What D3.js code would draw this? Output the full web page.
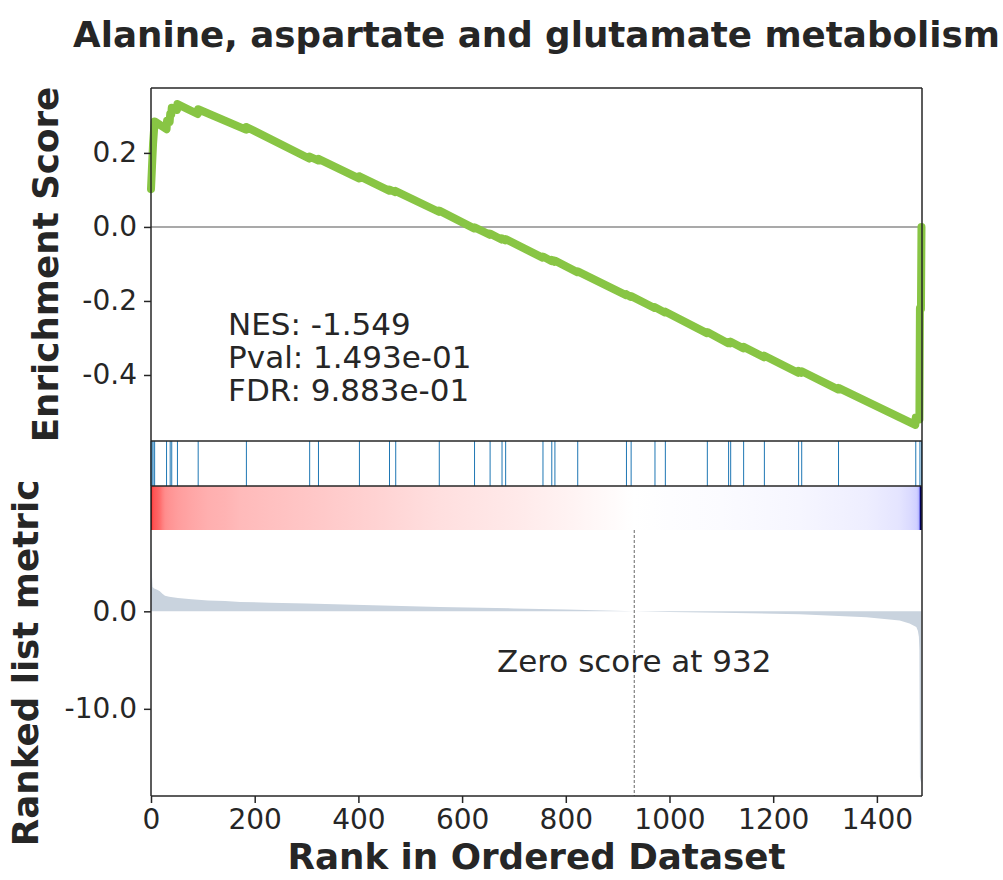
<!DOCTYPE html>
<html>
<head>
<meta charset="utf-8">
<script src="https://cdn.jsdelivr.net/npm/d3@7"></script>
<style>
  html, body { margin: 0; padding: 0; background: #fff; }
  svg { display: block; font-family: "DejaVu Sans", sans-serif; }
</style>
</head>
<body>
<svg id="chart" width="1003" height="880"></svg>
<script>
// ---------------- data ----------------
const title = "Alanine, aspartate and glutamate metabolism";
const nGenes = 1487;
const zeroScoreRank = 932;
const statLines = ["NES: -1.549", "Pval: 1.493e-01", "FDR: 9.883e-01"];

// running enrichment score (rank, ES)
const esRanks = [0, 2, 4, 7, 30, 31, 36, 37, 39, 40, 50, 51, 90, 91, 183, 184, 305, 306, 322, 323,
  401, 402, 459, 460, 471, 472, 555, 556, 623, 624, 653, 654, 676, 677, 683, 684, 755, 756,
  772, 773, 778, 779, 822, 823, 916, 917, 925, 926, 971, 972, 991, 992, 1072, 1073, 1113, 1114,
  1117, 1118, 1142, 1143, 1182, 1183, 1248, 1249, 1254, 1255, 1325, 1326, 1474, 1475, 1482, 1483, 1485, 1486];
const esValues = [0.102, 0.165, 0.225, 0.285, 0.264, 0.287, 0.284, 0.305, 0.303, 0.322, 0.316, 0.332,
  0.305, 0.318, 0.263, 0.270, 0.185, 0.190, 0.180, 0.184,
  0.131, 0.137, 0.098, 0.101, 0.094, 0.097, 0.041, 0.044, -0.004, -0.001, -0.021, -0.018,
  -0.034, -0.031, -0.036, -0.033, -0.083, -0.080, -0.092, -0.089, -0.094, -0.091, -0.122, -0.120,
  -0.184, -0.182, -0.189, -0.187, -0.219, -0.217, -0.231, -0.229, -0.287, -0.284, -0.314, -0.311,
  -0.314, -0.310, -0.328, -0.324, -0.352, -0.348, -0.394, -0.389, -0.394, -0.390, -0.439, -0.435,
  -0.535, -0.515, -0.520, -0.220, -0.222, 0.0];

// positions of gene-set members in the ranked list
const hitRanks = [0, 2, 4, 7, 30, 37, 40, 51, 91, 184, 306, 323, 402, 460, 472, 556, 624, 654, 677, 684,
  756, 773, 779, 823, 917, 926, 972, 992, 1073, 1114, 1118, 1143, 1183, 1249, 1255, 1326, 1475, 1483, 1486];

// ranked list metric (rank, value)
const metricRanks = [0, 1, 2, 3, 6, 12, 17, 22, 27, 35, 52, 78, 110, 143, 172, 230, 300, 428, 557,
  700, 800, 932, 1000, 1100, 1251, 1380, 1444, 1463, 1476, 1479, 1481, 1482, 1483, 1484, 1485, 1486];
const metricValues = [7.1, 5.4, 3.5, 2.5, 2.35, 2.2, 2.05, 1.8, 1.6, 1.5, 1.37, 1.24, 1.12, 1.06, 0.96,
  0.88, 0.79, 0.62, 0.45, 0.30, 0.18, 0.0, -0.08, -0.15, -0.30, -0.60, -0.95, -1.25, -1.6, -2.0,
  -2.6, -4.0, -17.0, -17.3, -17.5, -17.7];

const xTicks = [0, 200, 400, 600, 800, 1000, 1200, 1400];
const esTicks = [0.2, 0.0, -0.2, -0.4];
const metricTicks = [0.0, -10.0];

// ---------------- layout ----------------
const L = 151, R = 922;
const esTop = 88, esBot = 441;
const hitTop = 441, hitBot = 486;
const cbTop = 486, cbBot = 530;
const rkTop = 530, rkBot = 796;

const svg = d3.select("#chart");
const axisColor = "#262626";
const tickFont = 28;
const labelFont = 35.7;

const x = d3.scaleLinear().domain([0, nGenes]).range([L, R]);

function padded(vals) {
  const [mn, mx] = d3.extent(vals);
  const p = (mx - mn) * 0.05;
  return [mn - p, mx + p];
}
const yES = d3.scaleLinear().domain(padded(esValues)).range([esBot, esTop]);
const yRk = d3.scaleLinear().domain(padded(metricValues)).range([rkBot, rkTop]);

// ---------- colour bar (seismic, midpoint normalised) ----------
const [vmin, vmax] = d3.extent(metricValues);
const norm = d3.scaleLinear().domain([vmin, 0, vmax]).range([0, 0.5, 1]).clamp(true);
const seismic = d3.scaleLinear()
  .domain([0, 0.25, 0.5, 0.75, 1])
  .range(["rgb(0,0,77)", "rgb(0,0,255)", "rgb(255,255,255)", "rgb(255,0,0)", "rgb(128,0,0)"])
  .interpolate(d3.interpolateRgb);

const defs = svg.append("defs");
const grad = defs.append("linearGradient")
  .attr("id", "cbar").attr("gradientUnits", "userSpaceOnUse")
  .attr("x1", x(0)).attr("x2", x(nGenes)).attr("y1", 0).attr("y2", 0);
metricRanks.forEach((r, i) => {
  grad.append("stop")
    .attr("offset", (x(r) - x(0)) / (x(nGenes) - x(0)))
    .attr("stop-color", seismic(norm(metricValues[i])));
});
svg.append("rect")
  .attr("x", x(0)).attr("y", cbTop)
  .attr("width", x(nGenes) - x(0)).attr("height", cbBot - cbTop)
  .attr("fill", "url(#cbar)");

// ---------- ranked list metric ----------
const metricData = metricRanks.map((r, i) => ({ r, v: metricValues[i] }));
svg.append("path")
  .datum(metricData)
  .attr("fill", "#C9D3DE")
  .attr("d", d3.area().x(d => x(d.r)).y0(yRk(0)).y1(d => yRk(d.v)));

svg.append("line")
  .attr("x1", x(zeroScoreRank)).attr("x2", x(zeroScoreRank))
  .attr("y1", rkTop).attr("y2", rkBot)
  .attr("stroke", "#555").attr("stroke-width", 0.9).attr("stroke-dasharray", "3,2");

svg.append("text")
  .attr("x", x(zeroScoreRank)).attr("y", 672)
  .attr("text-anchor", "middle").attr("font-size", 31).attr("fill", "#262626")
  .text("Zero score at " + zeroScoreRank);

// ---------- hits ----------
svg.append("g").selectAll("line").data(hitRanks).join("line")
  .attr("x1", d => x(d)).attr("x2", d => x(d))
  .attr("y1", hitTop).attr("y2", hitBot)
  .attr("stroke", "#1f77b4").attr("stroke-width", 1);

// ---------- ES ----------
svg.append("line")
  .attr("x1", L).attr("x2", R).attr("y1", yES(0)).attr("y2", yES(0))
  .attr("stroke", "#8c8c8c").attr("stroke-width", 1.5);

const esData = esRanks.map((r, i) => ({ r, v: esValues[i] }));
svg.append("path")
  .datum(esData)
  .attr("fill", "none")
  .attr("stroke", "#88C544")
  .attr("stroke-width", 8)
  .attr("stroke-linejoin", "round")
  .attr("stroke-linecap", "round")
  .attr("d", d3.line().x(d => x(d.r)).y(d => yES(d.v)));

const statText = svg.append("text")
  .attr("font-size", 31).attr("fill", "#262626");
statLines.forEach((s, i) => {
  statText.append("tspan").attr("x", L + 0.1 * (R - L)).attr("y", 335 + i * 33).text(s);
});

// ---------- frames ----------
const frame = svg.append("g").attr("stroke", axisColor).attr("stroke-width", 1.5).attr("fill", "none");
[esTop, esBot, hitBot, rkBot].forEach(yy =>
  frame.append("line").attr("x1", L).attr("x2", R).attr("y1", yy).attr("y2", yy));
frame.append("line").attr("x1", L).attr("x2", L).attr("y1", esTop).attr("y2", rkBot);
frame.append("line").attr("x1", R).attr("x2", R).attr("y1", esTop).attr("y2", rkBot);

// ---------- axes ----------
function styleAxis(g) {
  g.select(".domain").remove();
  g.selectAll(".tick line").attr("stroke", axisColor).attr("stroke-width", 1.5);
  g.selectAll(".tick text").attr("fill", "#262626").attr("font-size", tickFont)
    .attr("font-family", "DejaVu Sans");
}
svg.append("g").attr("transform", `translate(0,${rkBot})`)
  .call(d3.axisBottom(x).tickValues(xTicks).tickFormat(d3.format("d")).tickSize(7).tickPadding(6))
  .call(styleAxis);
svg.append("g").attr("transform", `translate(${L},0)`)
  .call(d3.axisLeft(yES).tickValues(esTicks).tickFormat(d3.format(".1f")).tickSize(7).tickPadding(7))
  .call(styleAxis);
svg.append("g").attr("transform", `translate(${L},0)`)
  .call(d3.axisLeft(yRk).tickValues(metricTicks).tickFormat(d3.format(".1f")).tickSize(7).tickPadding(7))
  .call(styleAxis);
svg.selectAll(".tick text").text(function() { return this.textContent.replace("−", "-"); });

// ---------- titles ----------
svg.append("text")
  .attr("x", (L + R) / 2).attr("y", 47)
  .attr("text-anchor", "middle").attr("font-size", labelFont).attr("font-weight", "bold").attr("fill", "#262626")
  .text(title);
svg.append("text")
  .attr("x", (L + R) / 2).attr("y", 869)
  .attr("text-anchor", "middle").attr("font-size", labelFont).attr("font-weight", "bold").attr("fill", "#262626")
  .text("Rank in Ordered Dataset");
svg.append("text")
  .attr("transform", `translate(58,${(esTop + esBot) / 2}) rotate(-90)`)
  .attr("text-anchor", "middle").attr("font-size", labelFont).attr("font-weight", "bold").attr("fill", "#262626")
  .text("Enrichment Score");
svg.append("text")
  .attr("transform", `translate(38,${(rkTop + rkBot) / 2}) rotate(-90)`)
  .attr("text-anchor", "middle").attr("font-size", labelFont).attr("font-weight", "bold").attr("fill", "#262626")
  .text("Ranked list metric");
</script>
</body>
</html>
